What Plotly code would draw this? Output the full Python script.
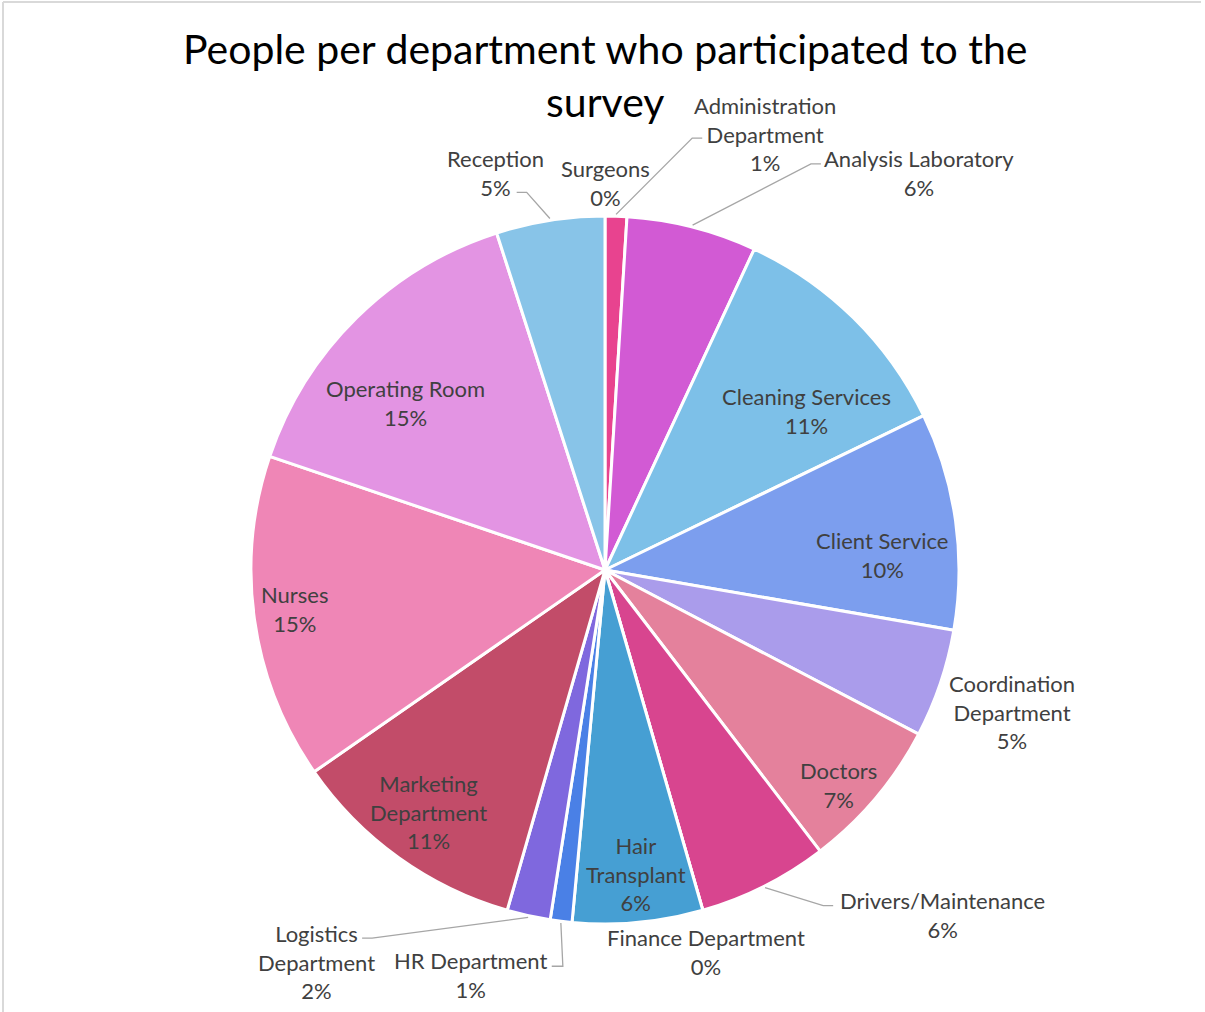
import math
import plotly.graph_objects as go

# Survey participation by department (head count)
departments = [
    "Surgeons", "Administration Department", "Analysis Laboratory",
    "Cleaning Services", "Client Service", "Coordination Department",
    "Doctors", "Drivers/Maintenance", "Finance Department", "Hair Transplant",
    "HR Department", "Logistics Department", "Marketing Department",
    "Nurses", "Operating Room", "Reception",
]
participants = [0, 1, 6, 11, 10, 5, 7, 6, 0, 6, 1, 2, 11, 15, 15, 5]

slice_colors = [
    "#E8438F", "#E8438F", "#D25AD4", "#7DC0E8", "#7C9EEE", "#AA9CEB",
    "#E4819C", "#D8458F", "#4BA3D6", "#469FD3", "#4A80E6", "#7F68DE",
    "#C24C69", "#EF86B6", "#E394E3", "#88C4E8",
]

# Page geometry (pixels)
W, H = 1205, 1012
CX, CY, R = 605, 570, 354

# Data-label layout: line-wrapped name, angle offset from the slice bisector (deg),
# distance from the centre as a multiple of the radius
label_style = {
    "Surgeons": ("Surgeons", 0.0, 1.093),
    "Administration Department": ("Administration<br>Department", 18.4, 1.312),
    "Analysis Laboratory": ("Analysis Laboratory", 24.1, 1.429),
    "Cleaning Services": ("Cleaning Services", 7.1, 0.724),
    "Client Service": ("Client Service", 4.9, 0.784),
    "Coordination Department": ("Coordination<br>Department", 0.5, 1.218),
    "Doctors": ("Doctors", 2.6, 0.896),
    "Drivers/Maintenance": ("Drivers/Maintenance", -17.6, 1.363),
    "Finance Department": ("Finance Department", 1.2, 1.115),
    "Hair Transplant": ("Hair<br>Transplant", -0.5, 0.863),
    "HR Department": ("HR Department", 11.2, 1.206),
    "Logistics Department": ("Logistics<br>Department", 23.9, 1.376),
    "Marketing Department": ("Marketing<br>Department", 0.5, 0.847),
    "Nurses": ("Nurses", 0.9, 0.885),
    "Operating Room": ("Operating Room", -5.45, 0.734),
    "Reception": ("Reception", -6.5, 1.162),
}

# Leader lines: end point offset from the label centre (px) and elbow side
leader_style = {
    "Reception": (21, 19, 1),
    "Administration Department": (-63, 4, -1),
    "Analysis Laboratory": (-98, -9.5, -1),
    "Drivers/Maintenance": (-109, -9.5, -1),
    "Logistics Department": (46, -24, 1),
    "HR Department": (81, -9, 1),
}

LABEL_FONT = dict(family="Lato, 'Open Sans', sans-serif", size=22, color="#404040")
LEADER_COLOR = "#A6A6A6"


def px(x):
    return x / W


def py(y):
    return 1 - y / H


def polar(theta_deg, r):
    t = math.radians(theta_deg)
    return CX + r * math.sin(t), CY - r * math.cos(t)


total = sum(participants)
percent_text = [f"{round(100 * v / total)}%" for v in participants]

mid_angles = []
running = 0
for v in participants:
    mid_angles.append(360 * (running + v / 2) / total)
    running += v

fig = go.Figure(
    go.Pie(
        labels=departments,
        values=participants,
        sort=False,
        direction="clockwise",
        rotation=0,
        marker=dict(colors=slice_colors, line=dict(color="white", width=3)),
        textinfo="none",
        hoverinfo="label+value+percent",
        domain=dict(x=[px(CX - R), px(CX + R)], y=[py(CY + R), py(CY - R)]),
        showlegend=False,
    )
)

annotations = []
shapes = []
for name, pct, mid in zip(departments, percent_text, mid_angles):
    wrapped, d_angle, r_fac = label_style[name]
    lx, ly = polar(mid + d_angle, r_fac * R)
    annotations.append(dict(
        x=px(lx), y=py(ly), xref="paper", yref="paper",
        text=f"{wrapped}<br>{pct}", showarrow=False,
        xanchor="center", yanchor="middle", align="center",
        font=LABEL_FONT,
    ))
    if name in leader_style:
        dx, dy, side = leader_style[name]
        ex, ey = lx + dx, ly + dy
        bx, by = ex + side * 10, ey
        sx, sy = polar(mid, R * 1.005)
        if name == "HR Department":
            bx = sx + 2
        path = f"M {px(sx)} {py(sy)} L {px(bx)} {py(by)} L {px(ex)} {py(ey)}"
        shapes.append(dict(type="path", path=path, xref="paper", yref="paper",
                           line=dict(color=LEADER_COLOR, width=1.3)))

# Chart title
annotations.append(dict(
    x=px(605), y=py(75), xref="paper", yref="paper",
    text="People per department who participated to the<br>survey",
    showarrow=False, xanchor="center", yanchor="middle", align="center",
    font=dict(family="Lato, 'Open Sans', sans-serif", size=41, color="#000000"),
))

# Chart-area frame
shapes.append(dict(type="line", xref="paper", yref="paper",
                   x0=px(3), y0=py(2), x1=px(1201), y1=py(2),
                   line=dict(color="#D9D9D9", width=2)))
shapes.append(dict(type="line", xref="paper", yref="paper",
                   x0=px(3), y0=py(2), x1=px(3), y1=py(1012),
                   line=dict(color="#D9D9D9", width=2)))

fig.update_layout(
    width=W, height=H,
    margin=dict(l=0, r=0, t=0, b=0),
    paper_bgcolor="white", plot_bgcolor="white",
    annotations=annotations, shapes=shapes,
)

fig.write_html("out.html")
